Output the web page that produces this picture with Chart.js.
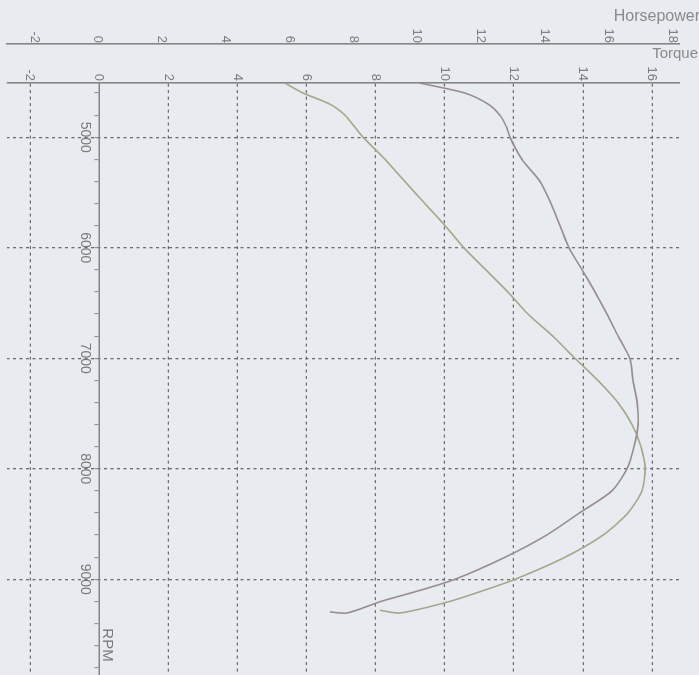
<!DOCTYPE html>
<html>
<head>
<meta charset="utf-8">
<title>Dyno run: torque and horsepower vs RPM</title>
<script src="https://cdn.jsdelivr.net/npm/chart.js@4/dist/chart.umd.min.js"></script>
<style>
  html, body { margin: 0; padding: 0; background: #e8ebef; overflow: hidden; width: 699px; height: 675px; }
  /* the plot is drawn with RPM running left to right, then turned a quarter turn clockwise */
  #wrap { position: absolute; left: 0; top: 0; width: 675px; height: 699px;
          transform-origin: 0 0; transform: translate(699px, 0) rotate(90deg); }
  canvas { display: block; }
  .ttl { position: absolute; font-family: "Liberation Sans", Arial, sans-serif; color: #8a8a8a;
         white-space: nowrap; line-height: 1; }
</style>
</head>
<body>
<div id="wrap"><canvas id="dyno" width="675" height="699"></canvas></div>
<div class="ttl" style="right:-1px; top:8px; font-size:16px;">Horsepower</div>
<div class="ttl" style="right:1px; top:45px; font-size:15px;">Torque</div>
<script>
// Torque curve (Nm) against engine speed
const torqueRpm = [4510, 4600, 4700, 4800, 4900, 5000, 5200, 5400, 5600, 5800, 6000, 6200, 6400, 6600, 6800,
                   7000, 7200, 7400, 7600, 7800, 8000, 8200, 8400, 8600, 8800, 9000, 9100, 9200, 9305, 9295];
const torqueNm = [9.29, 10.59, 11.26, 11.60, 11.78, 11.89, 12.24, 12.76, 13.08, 13.34, 13.60, 13.98, 14.35, 14.70, 15.02,
                  15.36, 15.45, 15.57, 15.60, 15.48, 15.28, 14.84, 13.90, 12.95, 11.75, 10.30, 9.29, 8.16, 7.18, 6.68];

// Power curve (hp) against engine speed
const powerRpm = [4510, 4600, 4700, 4800, 4900, 5000, 5200, 5400, 5600, 5800, 6000, 6200, 6400, 6600, 6800,
                  7000, 7200, 7400, 7600, 7800, 8000, 8200, 8400, 8600, 8800, 9000, 9100, 9200, 9305, 9280];
const powerHp = [5.86, 6.43, 7.27, 7.74, 8.03, 8.31, 9.00, 9.62, 10.25, 10.88, 11.47, 12.16, 12.85, 13.48, 14.26,
                 14.95, 15.67, 16.30, 16.74, 17.02, 17.15, 17.05, 16.61, 15.83, 14.64, 13.07, 12.10, 11.03, 9.47, 8.84];

// Axis ranges and tick steps
const rpmRange = [4508.6, 9866];
const rpmMajorStep = 1000;
const rpmMinorStep = 200;
const torqueRange = [-2.662, 16.782];
const powerRange = [-2.853, 18.213];
const valueStep = 2;
const rpmTitle = 'RPM';

const axisColor = '#858585';
const dotColor = '#6c6c6c';
const labelColor = '#7a7a7a';
const dotPattern = [3, 3.5];

Chart.defaults.font.family = "'Liberation Sans', Arial, sans-serif";

const toPoints = (xs, ys) => xs.map((x, i) => ({ x: x, y: ys[i] }));

// "RPM" caption just above the speed axis, near its far end
const rpmCaption = {
  id: 'rpmCaption',
  afterDraw(chart) {
    const { ctx, chartArea, scales } = chart;
    const axisPix = scales.y.getPixelForValue(0);
    ctx.save();
    ctx.font = "15px 'Liberation Sans', Arial, sans-serif";
    ctx.fillStyle = labelColor;
    ctx.textAlign = 'center';
    ctx.textBaseline = 'middle';
    ctx.fillText(rpmTitle, chartArea.right - 30, axisPix - 8.5);
    ctx.restore();
  }
};

new Chart(document.getElementById('dyno'), {
  type: 'scatter',
  data: {
    datasets: [
      {
        label: 'Torque',
        data: toPoints(torqueRpm, torqueNm),
        yAxisID: 'y',
        showLine: true,
        borderColor: '#978d8e',
        borderWidth: 1.6,
        pointRadius: 0,
        tension: 0.25
      },
      {
        label: 'Horsepower',
        data: toPoints(powerRpm, powerHp),
        yAxisID: 'hp',
        showLine: true,
        borderColor: '#a4a78a',
        borderWidth: 1.6,
        pointRadius: 0,
        tension: 0.25
      }
    ]
  },
  options: {
    responsive: false,
    devicePixelRatio: 1,
    animation: false,
    layout: { padding: { left: 0, right: 0, top: 20, bottom: 7 } },
    plugins: { legend: { display: false }, tooltip: { enabled: false } },
    scales: {
      x: {
        type: 'linear',
        position: { y: 0 },
        min: rpmRange[0],
        max: rpmRange[1],
        ticks: {
          stepSize: rpmMinorStep,
          autoSkip: false,
          includeBounds: false,
          maxRotation: 0,
          minRotation: 0,
          padding: 2,
          color: labelColor,
          font: { size: 14 },
          callback: v => (v % rpmMajorStep === 0 ? String(v) : '')
        },
        grid: {
          color: c => (c.tick && c.tick.value % rpmMajorStep === 0 ? dotColor : 'rgba(0,0,0,0)'),
          lineWidth: 1.3,
          drawTicks: true,
          tickLength: 4,
          tickColor: axisColor,
          tickWidth: 1
        },
        border: { display: true, color: axisColor, width: 1.6, dash: dotPattern },
        afterFit(s) { s.paddingLeft = 0; s.paddingRight = 0; }
      },
      y: {
        type: 'linear',
        position: 'left',
        weight: 0,
        min: torqueRange[0],
        max: torqueRange[1],
        ticks: {
          stepSize: valueStep,
          includeBounds: false,
          padding: 2,
          color: labelColor,
          font: { size: 13 },
          callback: v => String(v)
        },
        grid: {
          drawOnChartArea: true,
          drawTicks: false,
          color: c => (c.tick && c.tick.value === 0 ? 'rgba(0,0,0,0)' : dotColor),
          lineWidth: 1.3
        },
        border: { display: true, color: axisColor, width: 1.6, dash: dotPattern },
        afterFit(s) { s.width = 39; s.paddingTop = 0; s.paddingBottom = 0; }
      },
      hp: {
        type: 'linear',
        position: 'left',
        weight: 1,
        min: powerRange[0],
        max: powerRange[1],
        ticks: {
          stepSize: valueStep,
          includeBounds: false,
          padding: 1,
          color: labelColor,
          font: { size: 13 },
          callback: v => String(v)
        },
        grid: { drawOnChartArea: false, drawTicks: false },
        border: { display: true, color: axisColor, width: 1.6 },
        afterFit(s) { s.width = 44; s.paddingTop = 0; s.paddingBottom = 0; }
      }
    }
  },
  plugins: [rpmCaption]
});
</script>
</body>
</html>
